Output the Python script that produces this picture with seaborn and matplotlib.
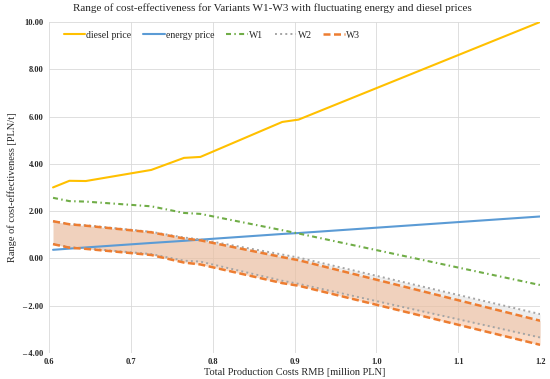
import matplotlib
matplotlib.use("Agg")
import matplotlib.pyplot as plt
import numpy as np
import pandas as pd
import seaborn as sns
from matplotlib.ticker import FuncFormatter, MultipleLocator

# total production costs [million PLN]
COSTS = [0.605, 0.625, 0.645, 0.725, 0.765, 0.785, 0.885, 0.905, 1.2]

DIESEL = [3.00, 3.28, 3.27, 3.74, 4.25, 4.29, 5.77, 5.87, 10.00]
ENERGY = [0.36, 0.41, 0.46, 0.65, 0.74, 0.79, 1.03, 1.07, 1.77]
W1 = [2.56, 2.42, 2.40, 2.20, 1.92, 1.88, 1.19, 1.05, -1.13]
W2_HI = [1.57, 1.45, 1.40, 1.12, 0.88, 0.80, 0.16, 0.03, -2.36]
W2_LO = [0.61, 0.47, 0.42, 0.18, -0.10, -0.14, -0.95, -1.08, -3.35]
W3_HI = [1.57, 1.44, 1.38, 1.10, 0.84, 0.76, 0.05, -0.08, -2.64]
W3_LO = [0.60, 0.45, 0.40, 0.14, -0.18, -0.26, -1.05, -1.16, -3.66]

sns.set_theme(style="whitegrid")
plt.rcParams["font.family"] = ["Liberation Serif", "DejaVu Serif"]

df = pd.DataFrame({"cost": COSTS, "diesel": DIESEL, "energy": ENERGY,
                   "w1": W1, "w2_hi": W2_HI, "w2_lo": W2_LO,
                   "w3_hi": W3_HI, "w3_lo": W3_LO})

fig = plt.figure(figsize=(5.5, 3.79), dpi=100)
ax = fig.add_axes([0.089, 0.069, 0.893, 0.873])

# shaded ranges
ax.fill_between(df["cost"], df["w2_lo"], df["w2_hi"], color="#d9d9d9",
                alpha=0.45, lw=0, zorder=1)
ax.fill_between(df["cost"], df["w3_lo"], df["w3_hi"], color="#f4b183",
                alpha=0.45, lw=0, zorder=1)

sns.lineplot(data=df, x="cost", y="diesel", ax=ax, color="#ffc000", lw=1.5,
             label="diesel price")
sns.lineplot(data=df, x="cost", y="energy", ax=ax, color="#5b9bd5", lw=1.5,
             label="energy price")
sns.lineplot(data=df, x="cost", y="w1", ax=ax, color="#70ad47", lw=1.5,
             label="W1")
ax.lines[-1].set_dashes([2.4, 1.6, 0.7, 1.6])
sns.lineplot(data=df, x="cost", y="w2_hi", ax=ax, color="#a5a5a5", lw=1.4,
             label="W2")
ax.lines[-1].set_linestyle(":")
sns.lineplot(data=df, x="cost", y="w2_lo", ax=ax, color="#a5a5a5", lw=1.4)
ax.lines[-1].set_linestyle(":")
sns.lineplot(data=df, x="cost", y="w3_hi", ax=ax, color="#ed7d31", lw=1.8,
             label="W3")
ax.lines[-1].set_dashes([2.8, 1.4])
sns.lineplot(data=df, x="cost", y="w3_lo", ax=ax, color="#ed7d31", lw=1.8)
ax.lines[-1].set_dashes([2.8, 1.4])

ax.set_xlim(0.6, 1.2)
ax.set_ylim(-4, 10)
ax.xaxis.set_major_locator(MultipleLocator(0.1))
ax.yaxis.set_major_locator(MultipleLocator(2))
ax.xaxis.set_major_formatter(FuncFormatter(lambda v, p: f"{v:.1f}"))
ax.yaxis.set_major_formatter(FuncFormatter(
    lambda v, p: f"\u2013 {abs(v):.2f}" if v < 0 else f"{v:.2f}"))
ax.tick_params(axis="both", labelsize=6, pad=4, length=0)
for t in ax.get_xticklabels() + ax.get_yticklabels():
    t.set_fontweight("bold")
ax.grid(True, color="#d9d9d9", lw=0.6)
for s in ax.spines.values():
    s.set_visible(False)

ax.set_xlabel("Total Production Costs RMB [million PLN]", fontsize=7.5,
              labelpad=1)
ax.set_ylabel("Range of cost-effectiveness [PLN/t]", fontsize=7.5,
              labelpad=4)
fig.suptitle("Range of cost-effectiveness for Variants W1-W3 with fluctuating "
             "energy and diesel prices", fontsize=8, x=0.495, y=0.99)

ax.legend(loc="upper left", bbox_to_anchor=(0.012, 1.0), ncol=5,
          frameon=False, fontsize=7, handlelength=2.2, columnspacing=1.2,
          handletextpad=0.15)

fig.savefig("out.png", dpi=100)
